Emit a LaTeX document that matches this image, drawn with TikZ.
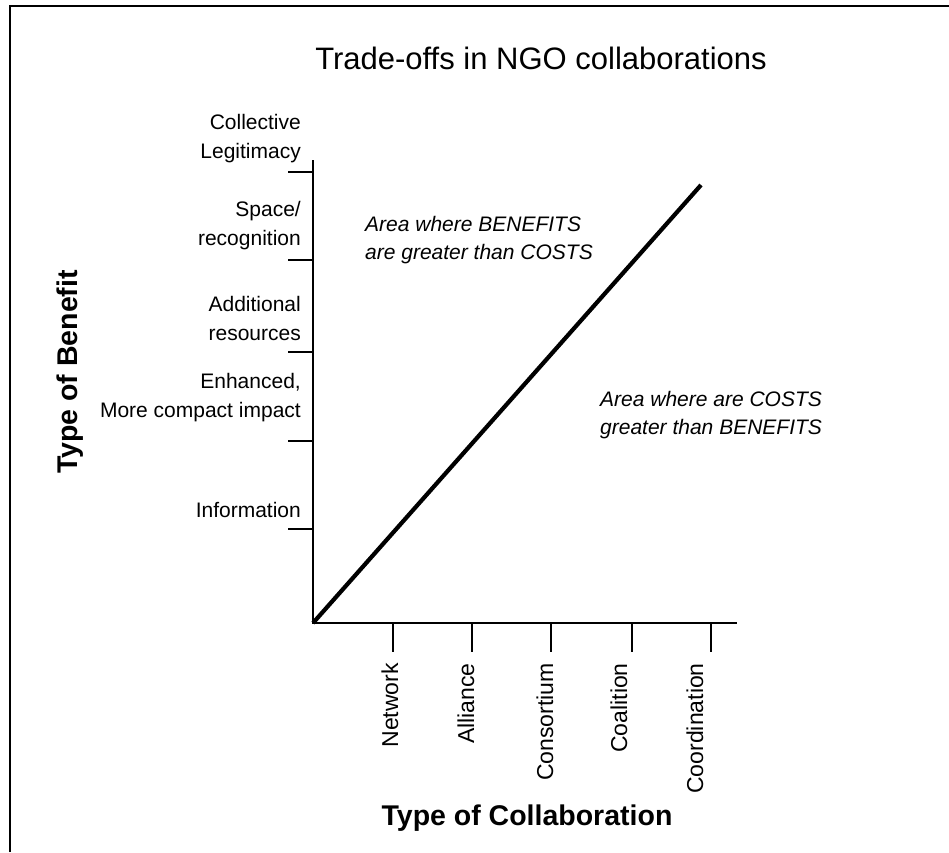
\documentclass[tikz,border=0pt]{standalone}
\usepackage{fontspec}
\setmainfont{Liberation Sans}
\begin{document}
\begin{tikzpicture}[x=1pt,y=-1pt,
  frame/.style={line width=2pt,black},
  axis/.style={line width=1.6pt,black},
  diag/.style={line width=4.2pt,black},
  ylab/.style={anchor=east,align=right,inner sep=0pt,font=\fontsize{21}{29}\selectfont},
  xlab/.style={anchor=east,rotate=90,inner sep=0pt,font=\fontsize{23}{27}\selectfont},
  area/.style={anchor=west,align=left,inner sep=0pt,font=\fontsize{21}{28}\selectfont\itshape},
  axtitle/.style={inner sep=0pt,font=\fontsize{28.5}{32}\selectfont\bfseries}]
\useasboundingbox (0,0) rectangle (949,852);
\fill[white] (0,0) rectangle (949,852);

% outer frame (left and top edges)
\draw[frame] (10,852) -- (10,6) -- (949,6);

% title
\node[inner sep=0pt,font=\fontsize{31}{36}\selectfont] (title) at (541,58) {Trade-offs in NGO collaborations};

% axes
\coordinate (O) at (313,623);
\coordinate (ytop) at (313,160);
\coordinate (xend) at (737,623);
\draw[axis] (ytop) -- (O) -- (xend);

% benefit ticks and labels
\foreach \yy in {172,260,352,441,529}
  \draw[axis] (288,\yy) -- (313,\yy);
\node[ylab] (legit) at (301,139) {Collective\\Legitimacy};
\node[ylab] (space) at (301,226) {Space/\\recognition};
\node[ylab] (resources) at (301,318) {Additional\\resources};
\node[ylab] (impact) at (301,398) {Enhanced,\\More compact impact};
\node[ylab] (info) at (301,510) {Information};

% collaboration ticks and labels
\foreach \xx in {393,472,551,632,711}
  \draw[axis] (\xx,623) -- (\xx,652);
\node[xlab] (network) at (390,663) {Network};
\node[xlab] (alliance) at (466,663) {Alliance};
\node[xlab] (consortium) at (545,663) {Consortium};
\node[xlab] (coalition) at (619,663) {Coalition};
\node[xlab] (coordination) at (695,663) {Coordination};

% axis titles
\node[axtitle,rotate=90] (ybenefit) at (70,372) {Type of Benefit};
\node[axtitle] (xcollab) at (527,818) {Type of Collaboration};

% break-even line
\coordinate (dEnd) at (701,185);
\draw[diag] (O) -- (dEnd);

% region notes
\node[area] (upper) at (365,240) {Area where BENEFITS\\are greater than COSTS};
\node[area] (lower) at (600,415) {Area where are COSTS\\greater than BENEFITS};
\end{tikzpicture}
\end{document}
